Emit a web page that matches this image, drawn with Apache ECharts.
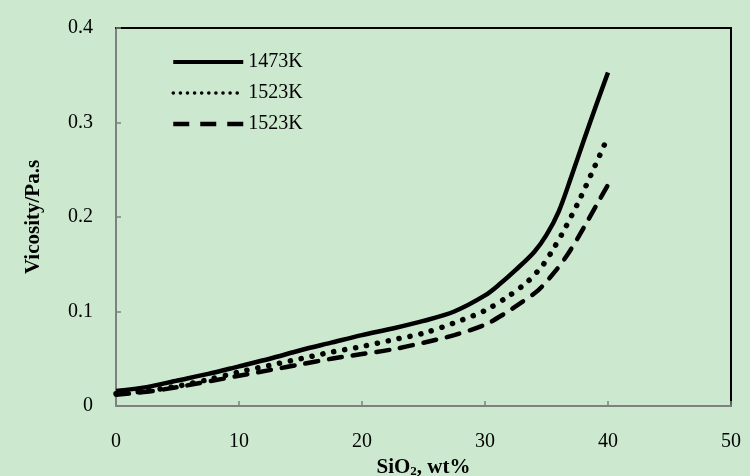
<!DOCTYPE html>
<html>
<head>
<meta charset="utf-8">
<title>Viscosity vs SiO2</title>
<script src="https://cdn.jsdelivr.net/npm/echarts@6/dist/echarts.min.js"></script>
<style>
  html, body { margin: 0; padding: 0; background: #cce8cf; }
  #chart { width: 750px; height: 476px; }
</style>
</head>
<body>
<div id="chart"></div>
<script>
// values (SiO2 wt%, viscosity Pa.s)
var solidX = [0, 2.5, 5, 7.5, 10, 12.5, 15, 17.5, 20, 22.5, 25, 27.5, 30, 31.2, 32.5, 34, 35, 36, 37, 38, 39, 40];
var solidY = [0.016, 0.020, 0.027, 0.034, 0.042, 0.050, 0.059, 0.067, 0.075, 0.082, 0.090, 0.100, 0.117, 0.129, 0.144, 0.163, 0.181, 0.206, 0.242, 0.280, 0.317, 0.353];

var dotX = [0, 2.5, 5, 7.5, 10, 12.5, 15, 17.5, 20, 22.5, 25, 27.5, 30, 32, 33.5, 34.7, 35.5, 36.3, 37.6, 38.8, 40];
var dotY = [0.013, 0.016, 0.021, 0.028, 0.036, 0.043, 0.050, 0.057, 0.063, 0.070, 0.077, 0.088, 0.101, 0.117, 0.132, 0.149, 0.165, 0.183, 0.216, 0.250, 0.285];

var dashX = [0, 2.5, 5, 7.5, 10, 12.5, 15, 17.5, 20, 22.5, 25, 27.5, 30, 31.5, 33, 34, 34.6, 35.8, 36.7, 37.6, 38.3, 39.3, 40];
var dashY = [0.012, 0.015, 0.020, 0.026, 0.032, 0.038, 0.044, 0.050, 0.055, 0.060, 0.067, 0.075, 0.086, 0.097, 0.110, 0.119, 0.126, 0.144, 0.160, 0.179, 0.195, 0.218, 0.234];

var names = ['1473K', '1523K', '1523K '];

function pairs(xs, ys) {
  var out = [];
  for (var i = 0; i < xs.length; i++) out.push([xs[i], ys[i]]);
  return out;
}

var font = 'Liberation Serif';
var chart = echarts.init(document.getElementById('chart'));
var option = {
  backgroundColor: '#cce8cf',
  animation: false,
  grid: { left: 116, right: 19, top: 28, bottom: 70, outerBoundsMode: 'none', containLabel: false },
  legend: {
    orient: 'vertical',
    left: 166, top: 47,
    itemWidth: 70, itemHeight: 14, itemGap: 11,
    data: [
      { name: names[0], lineStyle: { width: 4, type: 'solid' } },
      { name: names[1], lineStyle: { width: 3.5, type: [0.1, 7], cap: 'round' } },
      { name: names[2], lineStyle: { width: 4.5, type: [16, 11], cap: 'butt' } }
    ],
    itemStyle: { color: 'rgba(0,0,0,0)', borderWidth: 0 },
    textStyle: { fontFamily: font, fontSize: 20, color: '#000', lineHeight: 20 },
    formatter: function (n) { return n.trim(); }
  },
  xAxis: [{
    type: 'value', min: 0, max: 50, interval: 10,
    name: 'SiO{sub|2}, wt%', nameLocation: 'middle', nameGap: 45,
    nameTextStyle: {
      fontFamily: font, fontSize: 21, fontWeight: 'bold', color: '#000',
      rich: { sub: { fontFamily: font, fontSize: 13, fontWeight: 'bold', color: '#000', verticalAlign: 'bottom', padding: [8, 0, 0, 0] } }
    },
    axisLine: { lineStyle: { color: '#808080', width: 2 } },
    axisTick: { inside: true, length: 5, lineStyle: { color: '#808080', width: 1.5 } },
    axisLabel: { fontFamily: font, fontSize: 20, color: '#000', margin: 26 },
    splitLine: { show: false }
  }, {
    type: 'value', position: 'top', min: 0, max: 50,
    axisLine: { show: true, onZero: false, lineStyle: { color: '#000', width: 2 } },
    axisTick: { show: false }, axisLabel: { show: false }, splitLine: { show: false }
  }],
  yAxis: [{
    type: 'value', min: 0, max: 0.4, interval: 0.1,
    name: 'Vicosity/Pa.s', nameLocation: 'middle', nameGap: 72,
    nameTextStyle: { fontFamily: font, fontSize: 21, fontWeight: 'bold', color: '#000' },
    axisLine: { show: true, lineStyle: { color: '#808080', width: 2 } },
    axisTick: { show: true, inside: true, length: 5, lineStyle: { color: '#808080', width: 1.5 } },
    axisLabel: { fontFamily: font, fontSize: 20, color: '#000', margin: 23 },
    splitLine: { show: false }
  }, {
    type: 'value', position: 'right', min: 0, max: 0.4,
    axisLine: { show: true, onZero: false, lineStyle: { color: '#000', width: 2 } },
    axisTick: { show: false }, axisLabel: { show: false }, splitLine: { show: false }
  }],
  series: [{
    name: names[0], type: 'line', smooth: 0.3, symbol: 'none',
    lineStyle: { color: '#000', width: 4.5 },
    itemStyle: { color: '#000' },
    data: pairs(solidX, solidY)
  }, {
    name: names[1], type: 'line', smooth: 0.3, symbol: 'none',
    lineStyle: { color: '#000', width: 5.5, type: [0.1, 11], cap: 'round' },
    itemStyle: { color: '#000' },
    data: pairs(dotX, dotY)
  }, {
    name: names[2], type: 'line', smooth: 0.3, symbol: 'none',
    lineStyle: { color: '#000', width: 4.5, type: [13, 11], cap: 'round' },
    itemStyle: { color: '#000' },
    data: pairs(dashX, dashY)
  }]
};
chart.setOption(option);
</script>
</body>
</html>
